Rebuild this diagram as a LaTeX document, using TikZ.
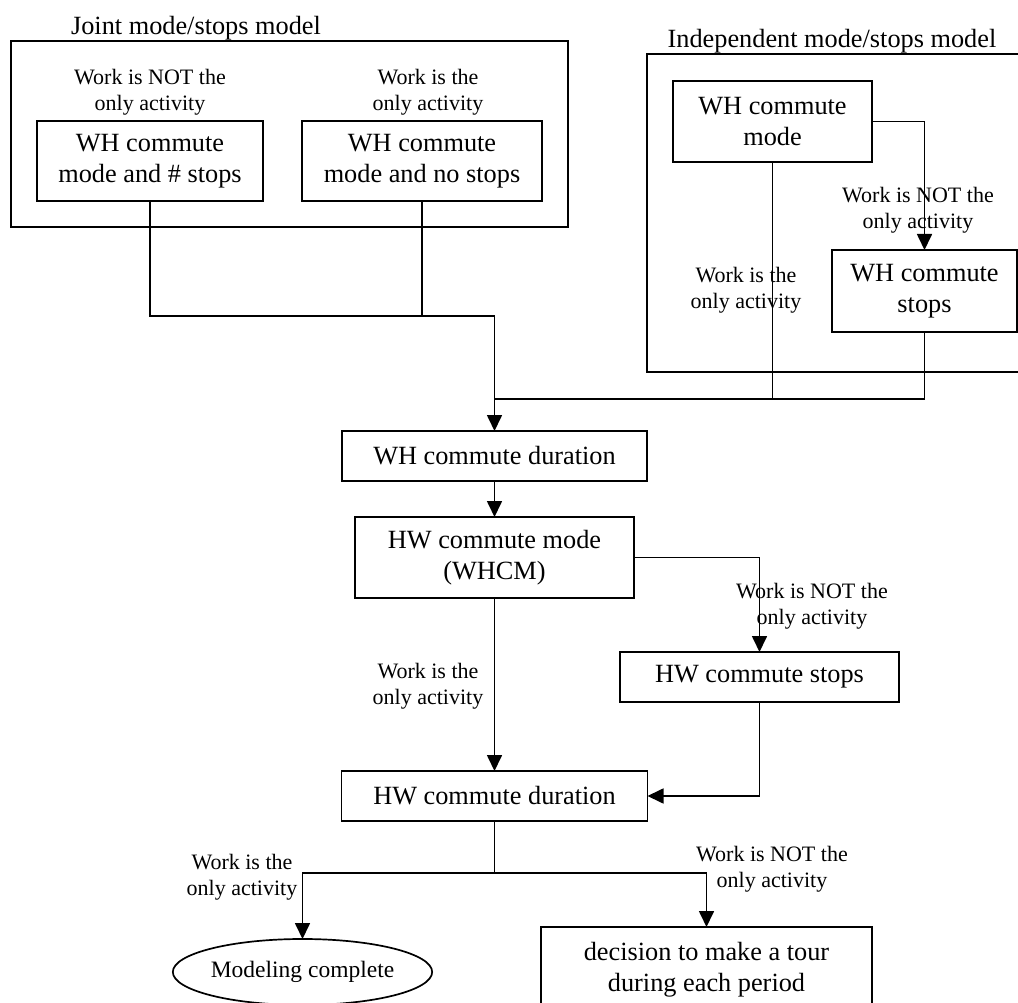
\documentclass[tikz,border=0pt]{standalone}
\usepackage{fontspec}
\setmainfont{Liberation Serif}
\usetikzlibrary{arrows.meta,shapes.geometric}

\begin{document}
\begin{tikzpicture}[x=1pt,y=-1pt,
  every node/.style={inner sep=0pt, outer sep=0pt},
  box/.style={draw, line width=1.7pt, align=center, font=\fontsize{26.3}{31}\selectfont},
  frame/.style={draw, line width=1.7pt},
  lbl/.style={align=center, font=\fontsize{22}{26}\selectfont},
  ttl/.style={anchor=base, font=\fontsize{26.3}{31}\selectfont},
  link/.style={line width=1.7pt},
  arr/.style={link, -{Triangle[length=16pt,width=15pt]}},
]
\useasboundingbox (0,0) rectangle (1018,1003);
\clip (0,0) rectangle (1018,1003);

% group frames and their titles
\node[frame, minimum width=557pt, minimum height=186pt] (joint) at (289.5,134) {};
\node[ttl] (jointT) at (196,35) {Joint mode/stops model};
\node[frame, minimum width=393pt, minimum height=318pt] (indep) at (843.5,213) {};
\node[ttl] (indepT) at (832,48) {Independent mode/stops model};

% joint model boxes
\node[box, minimum width=226pt, minimum height=80pt] (A) at (150,161) {WH commute\\mode and \# stops};
\node[box, minimum width=240pt, minimum height=80pt] (B) at (422,161) {WH commute\\mode and no stops};
\node[lbl] (lA) at (150,92) {Work is NOT the\\only activity};
\node[lbl] (lB) at (428,92) {Work is the\\only activity};

% independent model boxes
\node[box, minimum width=199pt, minimum height=81pt] (whm) at (772.5,121.5) {WH commute\\mode};
\node[box, minimum width=185pt, minimum height=82pt] (whs) at (924.5,291) {WH commute\\stops};
\node[lbl] (lWS) at (918,210.5) {Work is NOT the\\only activity};
\node[lbl] (lWM) at (746,290) {Work is the\\only activity};

% main chain
\node[box, minimum width=305pt, minimum height=50pt] (whd) at (494.5,456) {WH commute duration};
\node[box, line width=2.4pt, minimum width=279pt, minimum height=81pt] (hwm) at (494.5,557.5) {HW commute mode\\(WHCM)};
\node[box, minimum width=279pt, minimum height=50pt] (hws) at (759.5,677) {HW commute stops};
\node[box, minimum width=306pt, minimum height=50pt] (hwd) at (494.5,796) {HW commute duration};
\node[lbl] (lHS) at (812,606.5) {Work is NOT the\\only activity};
\node[lbl] (lHM) at (428,686.5) {Work is the\\only activity};

% outcomes
\node[draw, ellipse, line width=1.7pt, minimum width=241pt, minimum height=66pt,
      font=\fontsize{23.5}{28}\selectfont] (ell) at (302.5,972) {Modeling complete};
\node[box, minimum width=331pt, minimum height=86pt] (tour) at (706.5,970) {decision to make a tour\\during each period};
\node[lbl] (lEl) at (242,877) {Work is the\\only activity};
\node[lbl] (lTr) at (772,869) {Work is NOT the\\only activity};

% connectors
\coordinate (j1) at (494.5,316);
\coordinate (j2) at (494.5,399);
\coordinate (j3) at (494.5,873);
\draw[link] (A.south) |- (j1);
\draw[link] (B.south) |- (j1);
\draw[arr] (j1) -- (whd.north);
\draw[arr] (whm.east) -| (whs.north);
\draw[link] (whm.south) |- (j2);
\draw[link] (whs.south) |- (j2);
\draw[arr] (whd.south) -- (hwm.north);
\draw[arr] (hwm.east) -| (hws.north);
\draw[arr] (hwm.south) -- (hwd.north);
\draw[arr] (hws.south) |- (hwd.east);
\draw[link] (hwd.south) -- (j3);
\draw[arr] (j3) -| (ell.north);
\draw[arr] (j3) -| (tour.north);
\end{tikzpicture}
\end{document}
